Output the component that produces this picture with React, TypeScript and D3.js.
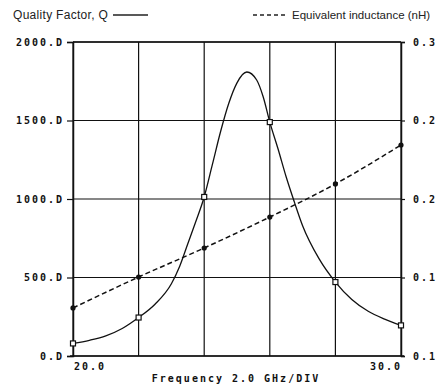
import { useRef, useEffect } from "react";
import * as d3 from "d3";

const width = 440;
const height = 385;

// Q (GHz, Q)
const qFreq = [20.0, 20.5, 21.0, 21.5, 22.0, 22.5, 23.0, 23.25, 23.5, 23.75, 24.0, 24.25, 24.5, 24.75, 25.0, 25.3, 25.6, 25.8, 26.0, 26.25, 26.5, 26.75, 27.0, 27.5, 28.0, 28.5, 29.0, 29.5, 30.0];
const qValues = [80, 100, 128, 175, 245, 330, 460, 570, 715, 860, 1013, 1220, 1430, 1610, 1740, 1809, 1758, 1650, 1490, 1320, 1140, 980, 830, 620, 471, 360, 285, 235, 195];

// marker points
const markerFreq = [20, 22, 24, 26, 28, 30];
const qMarkers = [80, 245, 1013, 1490, 471, 195];
const inductance = [0.1306, 0.1503, 0.1688, 0.1885, 0.2096, 0.2344];

const leftTicks = [0, 500, 1000, 1500, 2000];
const leftTickLabels = ["0.D", "500.D", "1000.D", "1500.D", "2000.D"];
const rightTicks = [0.1, 0.15, 0.2, 0.25, 0.3];
const rightTickLabels = ["0.1", "0.1", "0.2", "0.2", "0.3"];
const xGrid = [20, 22, 24, 26, 28, 30];

export default function App() {
  const ref = useRef<SVGSVGElement | null>(null);

  useEffect(() => {
    const svg = d3.select(ref.current);
    svg.selectAll("*").remove();

    const left = 73;
    const right = 401;
    const top = 42;
    const bottom = 356;

    const x = d3.scaleLinear().domain([20, 30]).range([left, right]);
    const yQ = d3.scaleLinear().domain([0, 2000]).range([bottom, top]);
    const yL = d3.scaleLinear().domain([0.1, 0.3]).range([bottom, top]);

    const ink = "#111";
    const tickFont = "'DejaVu Sans Mono', monospace";

    // grid
    const g = svg.append("g").attr("stroke", ink).attr("stroke-width", 1.2);
    g.selectAll("line.v")
      .data(xGrid)
      .join("line")
      .attr("x1", (d) => x(d))
      .attr("x2", (d) => x(d))
      .attr("y1", top)
      .attr("y2", bottom);
    g.selectAll("line.h")
      .data(leftTicks)
      .join("line")
      .attr("class", "h")
      .attr("x1", left)
      .attr("x2", right)
      .attr("y1", (d) => yQ(d))
      .attr("y2", (d) => yQ(d));

    // left axis
    const la = svg
      .append("g")
      .attr("transform", `translate(${left},0)`)
      .call(
        d3
          .axisLeft(yQ)
          .tickValues(leftTicks)
          .tickSize(6)
          .tickFormat((_, i) => leftTickLabels[i])
      );
    la.select(".domain").attr("stroke", ink).attr("stroke-width", 1.5);
    la.selectAll(".tick line").attr("stroke", ink).attr("stroke-width", 1.2);
    la.selectAll(".tick text")
      .attr("font-family", tickFont)
      .attr("font-weight", "bold")
      .attr("font-size", 10)
      .attr("letter-spacing", 2)
      .attr("fill", ink)
      .attr("x", -9);

    // right axis
    const ra = svg
      .append("g")
      .attr("transform", `translate(${right},0)`)
      .call(
        d3
          .axisRight(yL)
          .tickValues(rightTicks)
          .tickSize(4)
          .tickFormat((_, i) => rightTickLabels[i])
      );
    ra.select(".domain").attr("stroke", ink).attr("stroke-width", 1.5);
    ra.selectAll(".tick line").attr("stroke", ink).attr("stroke-width", 1.2);
    ra.selectAll(".tick text")
      .attr("font-family", tickFont)
      .attr("font-weight", "bold")
      .attr("font-size", 10)
      .attr("letter-spacing", 2)
      .attr("fill", ink)
      .attr("x", 12);

    // frame top/bottom
    svg
      .append("line")
      .attr("x1", left - 3)
      .attr("x2", right + 3)
      .attr("y1", bottom)
      .attr("y2", bottom)
      .attr("stroke", ink)
      .attr("stroke-width", 1.5);
    svg
      .append("line")
      .attr("x1", left)
      .attr("x2", right)
      .attr("y1", top)
      .attr("y2", top)
      .attr("stroke", ink)
      .attr("stroke-width", 1.5);

    // x labels
    const xl = svg
      .append("g")
      .attr("font-family", tickFont)
      .attr("font-weight", "bold")
      .attr("font-size", 10)
      .attr("letter-spacing", 2)
      .attr("fill", ink);
    xl.append("text").attr("x", x(20) + 1).attr("y", 370).text("20.0");
    xl.append("text")
      .attr("x", x(30) + 1)
      .attr("y", 370)
      .attr("text-anchor", "end")
      .text("30.0");
    xl.append("text")
      .attr("x", 236)
      .attr("y", 382)
      .attr("text-anchor", "middle")
      .text("Frequency 2.0 GHz/DIV");

    // Q curve
    const qPts = qFreq.map((f, i) => [f, qValues[i]] as [number, number]);
    const qLine = d3
      .line<[number, number]>()
      .x((d) => x(d[0]))
      .y((d) => yQ(d[1]))
      .curve(d3.curveMonotoneX);
    svg
      .append("path")
      .datum(qPts)
      .attr("fill", "none")
      .attr("stroke", ink)
      .attr("stroke-width", 1.3)
      .attr("d", qLine);

    svg
      .selectAll("rect.qm")
      .data(markerFreq)
      .join("rect")
      .attr("x", (d) => x(d) - 2.5)
      .attr("y", (d, i) => yQ(qMarkers[i]) - 2.5)
      .attr("width", 5)
      .attr("height", 5)
      .attr("fill", "#fff")
      .attr("stroke", ink)
      .attr("stroke-width", 1.2);

    // inductance
    const lPts = markerFreq.map((f, i) => [f, inductance[i]] as [number, number]);
    const lLine = d3
      .line<[number, number]>()
      .x((d) => x(d[0]))
      .y((d) => yL(d[1]))
      .curve(d3.curveMonotoneX);
    svg
      .append("path")
      .datum(lPts)
      .attr("fill", "none")
      .attr("stroke", ink)
      .attr("stroke-width", 1.5)
      .attr("stroke-dasharray", "5,3")
      .attr("d", lLine);
    svg
      .selectAll("circle.lm")
      .data(lPts)
      .join("circle")
      .attr("cx", (d) => x(d[0]))
      .attr("cy", (d) => yL(d[1]))
      .attr("r", 2.6)
      .attr("fill", ink);

    // legend
    const lg = svg
      .append("g")
      .attr("font-family", "'Liberation Sans', Arial, sans-serif")
      .attr("font-size", 12)
      .attr("fill", "#222");
    lg.append("text")
      .attr("x", 13)
      .attr("y", 19)
      .attr("letter-spacing", 0.3)
      .text("Quality Factor, Q");
    lg.append("line")
      .attr("x1", 113)
      .attr("x2", 148)
      .attr("y1", 15)
      .attr("y2", 15)
      .attr("stroke", "#222")
      .attr("stroke-width", 1.3);
    lg.append("line")
      .attr("x1", 253)
      .attr("x2", 286)
      .attr("y1", 15)
      .attr("y2", 15)
      .attr("stroke", "#222")
      .attr("stroke-width", 1.3)
      .attr("stroke-dasharray", "4,3");
    lg.append("text")
      .attr("x", 292)
      .attr("y", 19)
      .attr("font-size", 11.5)
      .text("Equivalent inductance (nH)");
  }, []);

  return (
    <svg
      ref={ref}
      width={width}
      height={height}
      style={{ position: "absolute", left: 0, top: 0, background: "#fff" }}
    />
  );
}
